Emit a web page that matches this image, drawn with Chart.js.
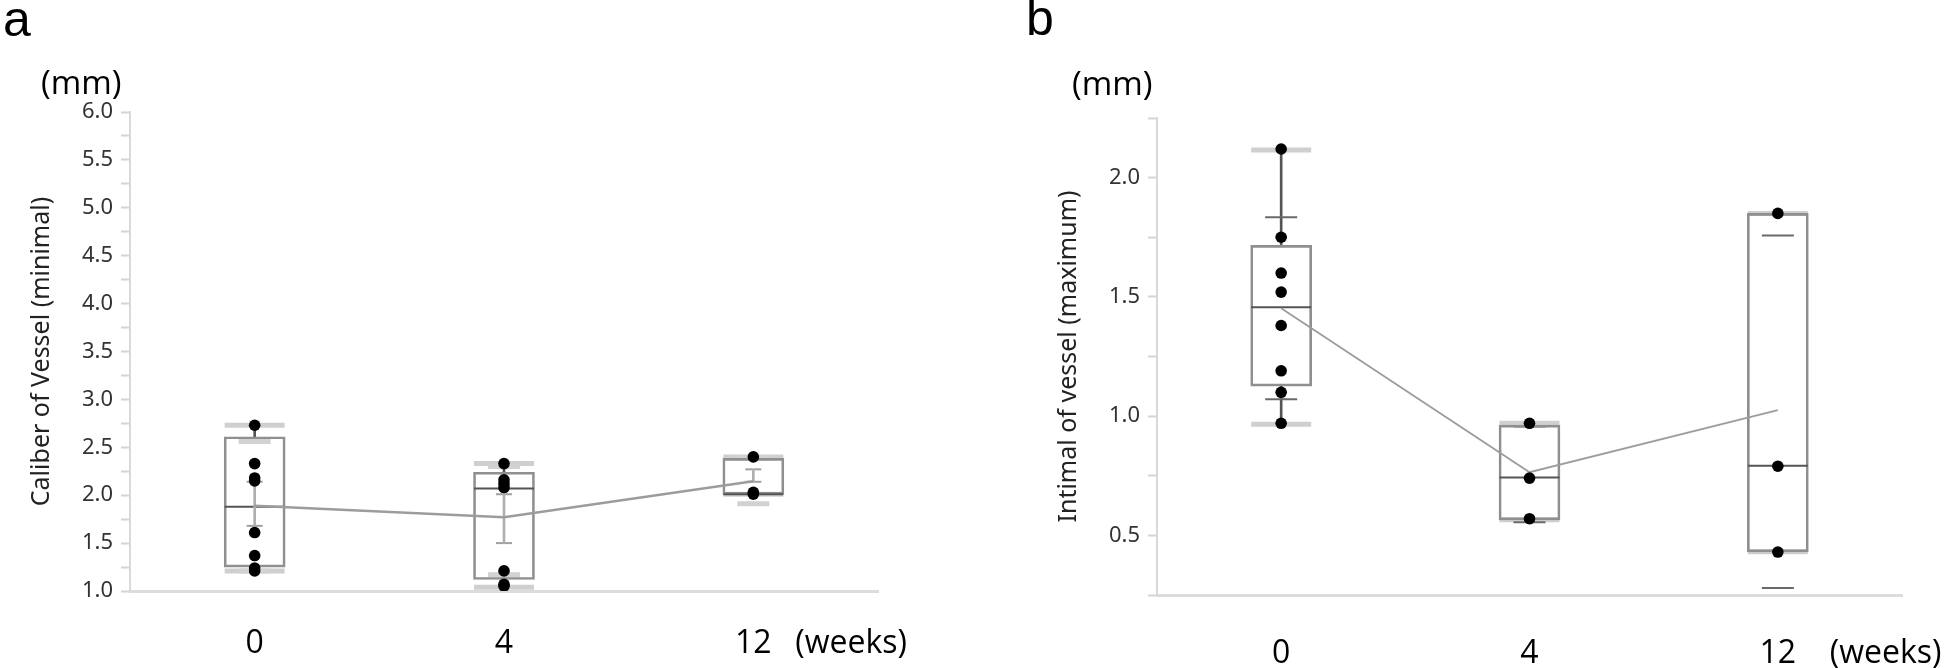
<!DOCTYPE html>
<html><head><meta charset="utf-8">
<script src="https://cdn.jsdelivr.net/npm/chart.js@4.4.1/dist/chart.umd.min.js"></script>
<style>
html,body{margin:0;padding:0;background:#fff;width:1944px;height:668px;overflow:hidden}
.panel{position:absolute;top:0;height:668px;width:972px}
#pa{left:0}#pb{left:972px}
</style></head><body>
<div class="panel" id="pa"><canvas id="ca"></canvas></div>
<div class="panel" id="pb"><canvas id="cb"></canvas></div>
<script>
// ---------- shared ----------
const categories = ['0', '4', '12'];
const xUnitLabel = '(weeks)';
const yUnitLabel = '(mm)';

// ---------- panel a : Caliber of Vessel (minimal) ----------
const aTitle = 'Caliber of Vessel (minimal)';
const aTickLabels = ['1.0','1.5','2.0','2.5','3.0','3.5','4.0','4.5','5.0','5.5','6.0'];
const aPoints = [
  [2.73, 2.33, 2.18, 2.15, 1.61, 1.37, 1.24, 1.21],
  [2.33, 2.16, 2.12, 2.08, 1.21, 1.07, 1.05],
  [2.40, 2.03, 2.01]
];
const aMin    = [1.21, 1.04, 2.01];
const aQ1     = [1.25, 1.12, 2.01];
const aMedian = [1.88, 2.07, 2.01];
const aQ3     = [2.61, 2.24, 2.385];
const aMax    = [2.73, 2.33, 2.40];
const aMean   = [1.89, 1.77, 2.145];
const aSdLow  = [1.21, 1.17, 1.91];
const aSdHigh = [2.56, 2.30, 2.39];
const aErrLow  = [1.68, 1.50, 2.14];
const aErrHigh = [2.14, 2.01, 2.27];

// ---------- panel b : Intimal of vessel (maximum) ----------
const bTitle = 'Intimal of vessel (maximum)';
const bTickLabels = ['0.5','1.0','1.5','2.0'];
const bPoints = [
  [2.12, 1.75, 1.60, 1.52, 1.38, 1.19, 1.10, 0.97],
  [0.97, 0.74, 0.57],
  [1.85, 0.79, 0.43]
];
const bMin    = [0.966, 0.565, 0.431];
const bQ1     = [1.126, 0.565, 0.431];
const bMedian = [1.457, 0.743, 0.792];
const bQ3     = [1.716, 0.962, 1.850];
const bMax    = [2.116, 0.970, 1.850];
const bMean   = [1.452, 0.765, 1.025];
const bSdLow  = [1.071, 0.555, 0.279];
const bSdHigh = [1.834, 0.957, 1.757];

// ---------- helpers ----------
function toPoints(groups){
  const out=[]; groups.forEach((g,i)=>g.forEach(v=>out.push({x:categories[i], y:v}))); return out;
}
function pairs(lo,hi){ return lo.map((v,i)=>[v,hi[i]]); }
function mark(data, radius, width, color, order){
  return {type:'line', data, showLine:false, pointStyle:'line', pointRadius:radius, pointHoverRadius:radius,
          pointBorderWidth:width, pointBorderColor:color, pointBackgroundColor:color, order};
}

const extraText = {
  id:'extraText',
  afterDraw(chart, args, o){
    const ctx = chart.ctx; ctx.save();
    ctx.fillStyle = '#000'; ctx.textAlign = 'left';
    ctx.font = '50px "Liberation Sans"'; ctx.textBaseline = 'alphabetic';
    ctx.fillText(o.letter, o.letterX, o.letterY);
    ctx.font = '33px "Open Sans"'; ctx.textBaseline = 'middle';
    ctx.fillText(yUnitLabel, o.mmX, o.mmY);
    const xs = chart.scales.x;
    const items = xs.getLabelItems();
    const it = items[items.length-1];
    const tr = it.options.translation;
    ctx.font = it.font.string;
    ctx.textBaseline = it.options.textBaseline;
    ctx.fillText(xUnitLabel, tr[0] + o.weeksDx, tr[1] + (it.textOffset||0));
    ctx.restore();
  }
};

function buildChart(id, s){
  const datasets = [
    mark(s.min, 30, 5, '#cfcfcf', 9),
    mark(s.max, 30, 5, '#cfcfcf', 9),
    {type:'bar', data:pairs(s.q3, s.max), grouped:false, barThickness:2, backgroundColor:'#555', borderWidth:0, order:8},
    {type:'bar', data:pairs(s.min, s.q1), grouped:false, barThickness:2, backgroundColor:'#555', borderWidth:0, order:8},
    mark(s.sdLow, 16, s.sdWidth, s.sdColor, 7),
    mark(s.sdHigh, 16, s.sdWidth, s.sdColor, 7),
    {type:'bar', data:pairs(s.q1, s.q3), grouped:false, barThickness:61, backgroundColor:'rgba(0,0,0,0)',
     borderColor:'#8f8f8f', borderWidth:2, borderSkipped:false, order:5},
    mark(s.median, 30, 2, '#555', 4),
    {type:'line', data:s.mean, borderColor:'#9c9c9c', borderWidth:s.meanWidth, pointRadius:0, tension:0, order:2},
    {type:'line', data:toPoints(s.points), showLine:false, pointStyle:'circle', pointRadius:5.8,
     pointBackgroundColor:'#000', pointBorderWidth:0, order:0}
  ];
  if (s.errLow){
    datasets.push({type:'bar', data:pairs(s.errLow, s.errHigh), grouped:false, barThickness:2, backgroundColor:'#b0b0b0', borderWidth:0, order:3});
    datasets.push(mark(s.errLow, 8, 2, '#a0a0a0', 3));
    datasets.push(mark(s.errHigh, 8, 2, '#a0a0a0', 3));
  }
  return new Chart(document.getElementById(id), {
    type:'bar',
    data:{labels:categories, datasets},
    plugins:[extraText],
    options:{
      responsive:true, maintainAspectRatio:false, animation:false, devicePixelRatio:1, events:[],
      layout:{padding:s.pad},
      plugins:{legend:{display:false}, tooltip:{enabled:false}, extraText:s.text},
      scales:{
        x:{
          offset:true,
          grid:{display:false, drawTicks:false},
          border:{display:true, color:'#dcdcdc', width:3},
          ticks:{padding:s.xPad, color:'#000', font:{family:'"Open Sans"', size:32}},
          afterFit(sc){ sc.height = s.xHeight; }
        },
        y:{
          min:s.yMin, max:s.yMax,
          grid:{drawOnChartArea:false, drawTicks:true, tickLength:9, tickWidth:2, tickColor:'#d4d4d4'},
          border:{display:true, color:'#d9d9d9', width:2},
          ticks:{stepSize:0.25, autoSkip:false, padding:8, color:'#333',
                 font:{family:'"Noto Sans"', size:22},
                 callback:(v)=>{ const t=Number(v).toFixed(1); return (s.tickLabels.includes(t) && Math.abs(v*2-Math.round(v*2))<1e-6) ? t : ''; }},
          title:{display:true, text:s.title, color:'#222', font:{family:'"Noto Sans"', size:25}, padding:{top:s.titlePad, bottom:0}},
          afterFit(sc){ sc.width = s.yWidth; }
        }
      }
    }
  });
}

buildChart('ca', {
  points:aPoints, min:aMin, q1:aQ1, median:aMedian, q3:aQ3, max:aMax, mean:aMean,
  sdLow:aSdLow, sdHigh:aSdHigh, sdWidth:5, sdColor:'#d2d2d2', errLow:aErrLow, errHigh:aErrHigh,
  meanWidth:2.5, yMin:1, yMax:6, tickLabels:aTickLabels, title:aTitle, titlePad:27,
  pad:{top:112, right:94, left:0, bottom:0}, yWidth:130, xHeight:77, xPad:34,
  text:{letter:'a', letterX:3, letterY:36, mmX:41, mmY:85, weeksDx:42}
});
buildChart('cb', {
  points:bPoints, min:bMin, q1:bQ1, median:bMedian, q3:bQ3, max:bMax, mean:bMean,
  sdLow:bSdLow, sdHigh:bSdHigh, sdWidth:2, sdColor:'#6a6a6a',
  meanWidth:1.8, yMin:0.25, yMax:2.25, tickLabels:bTickLabels, title:bTitle, titlePad:82,
  pad:{top:118, right:42, left:0, bottom:0}, yWidth:185, xHeight:73, xPad:40,
  text:{letter:'b', letterX:54, letterY:35, mmX:100, mmY:86, weeksDx:52}
});
</script>
</body></html>
